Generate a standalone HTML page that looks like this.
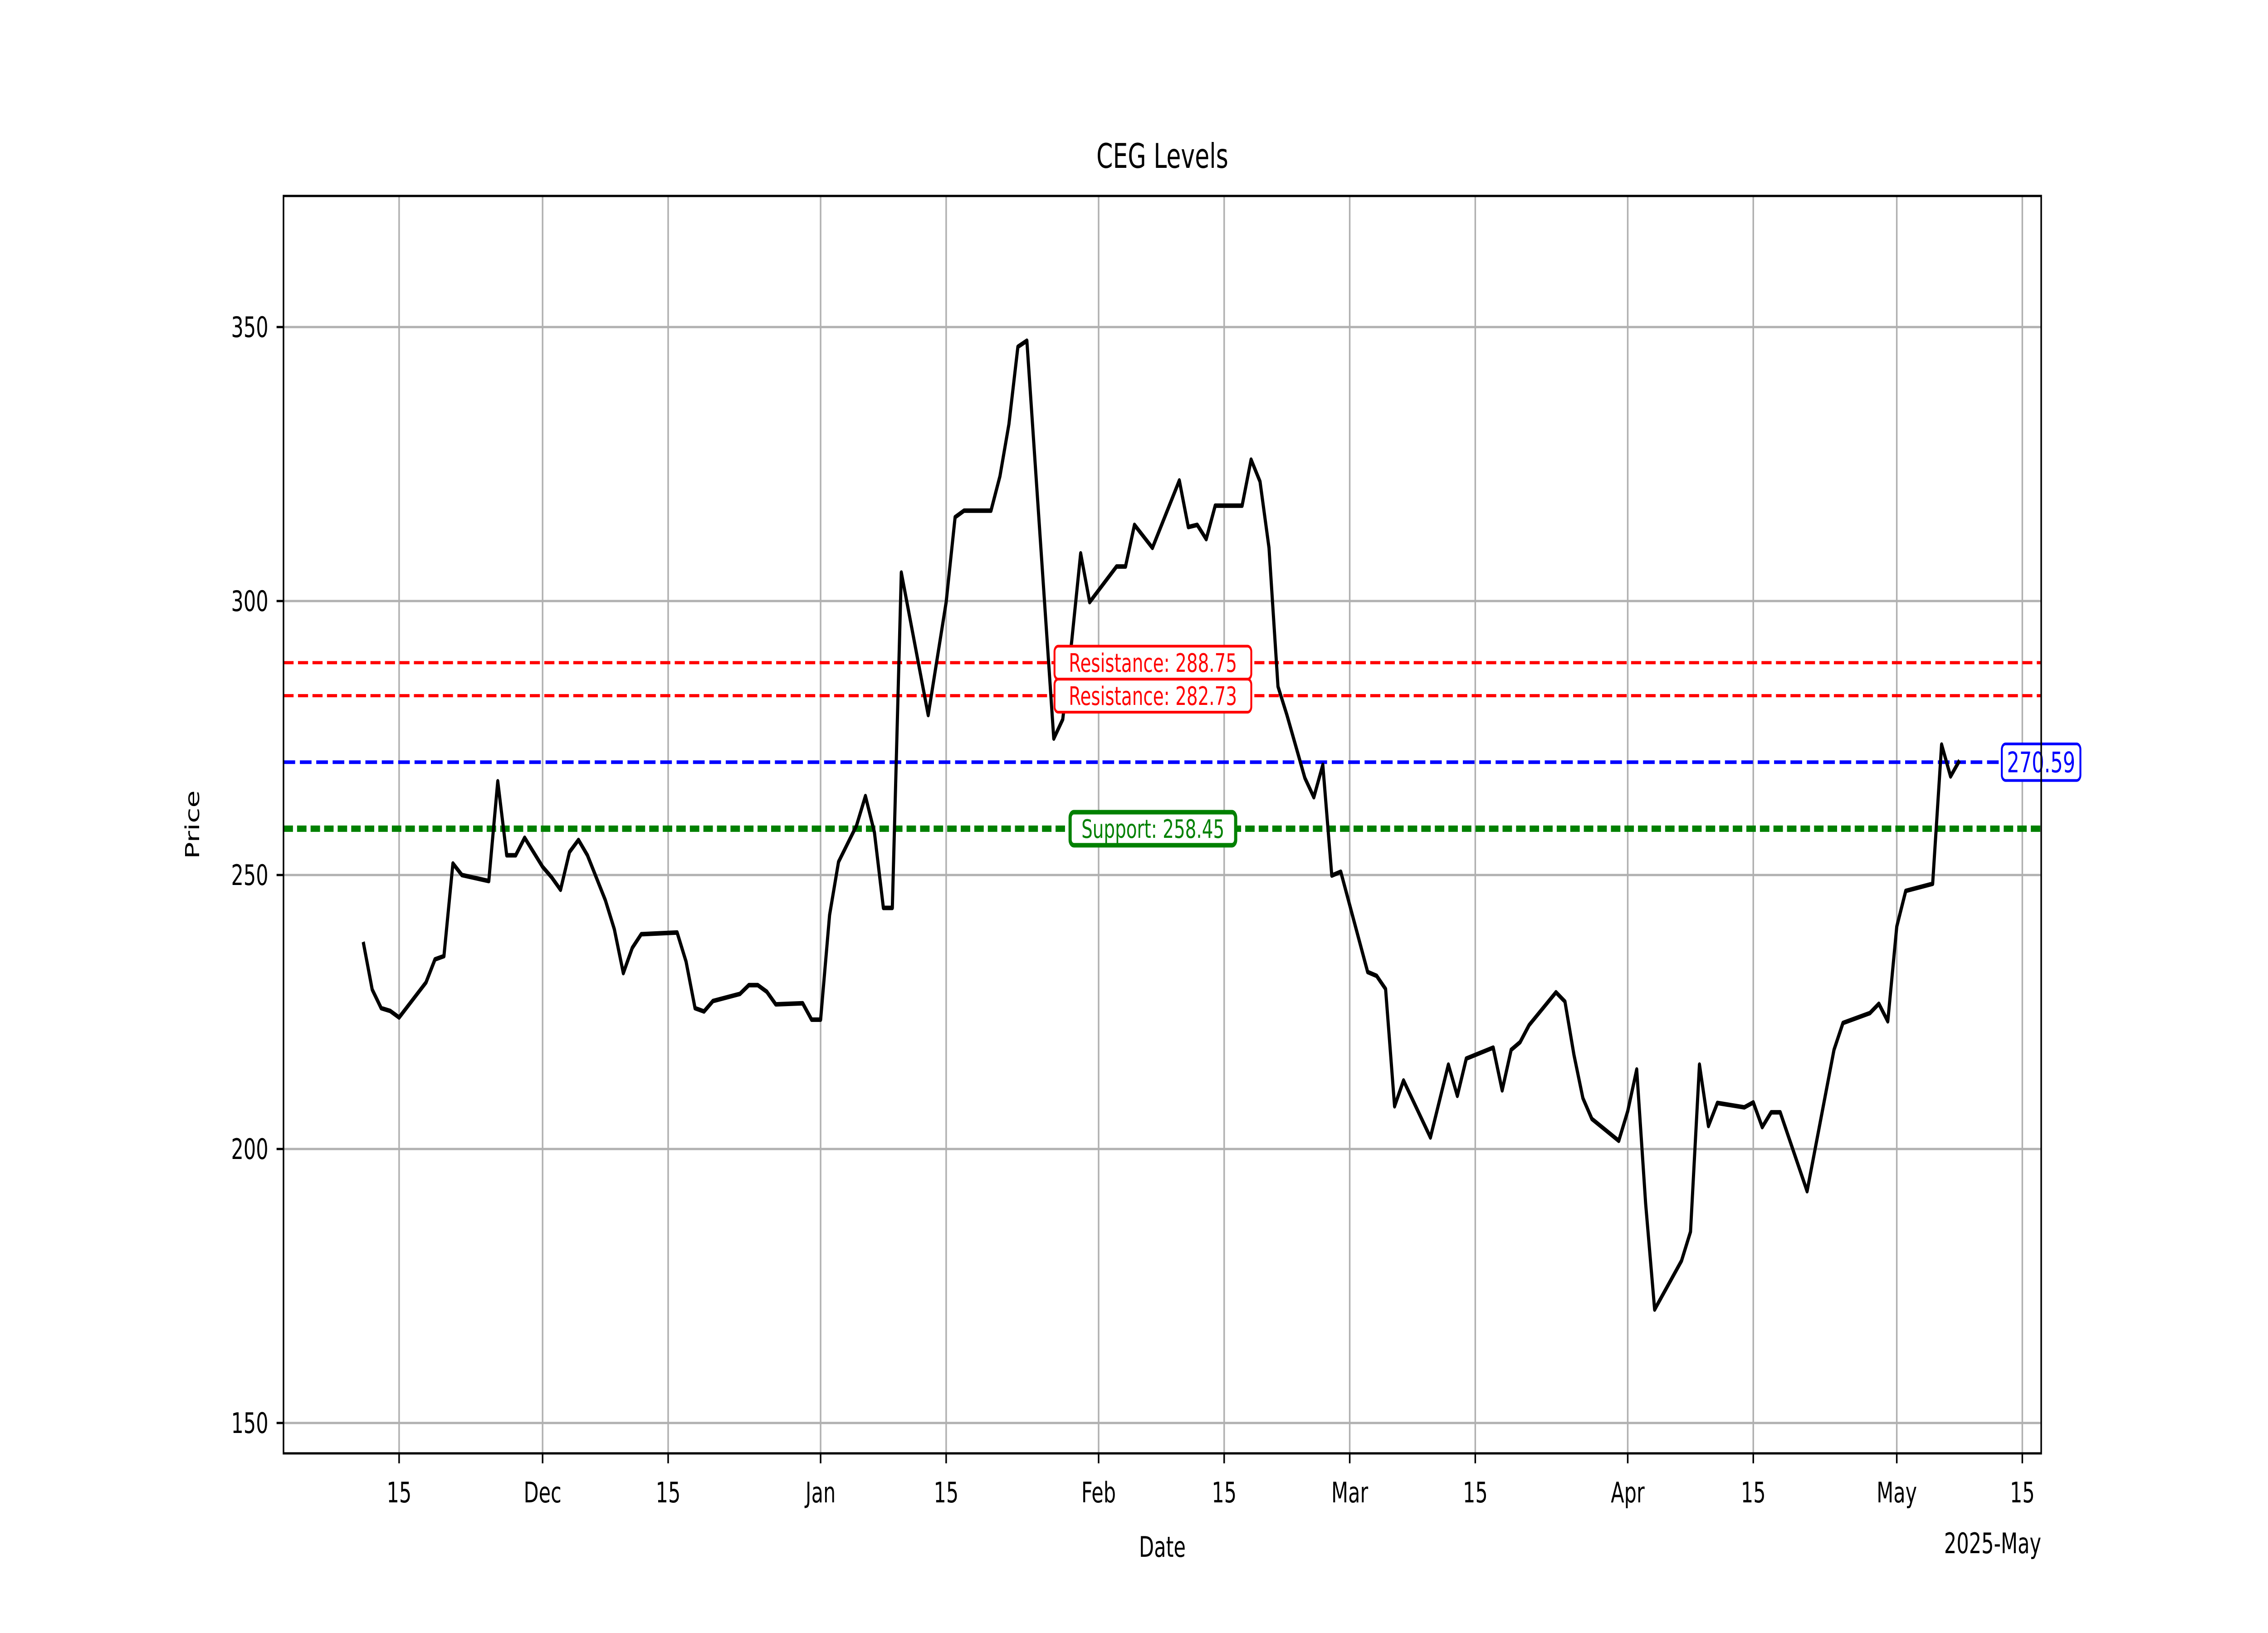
<!DOCTYPE html>
<html><head><meta charset="utf-8"><style>
html,body{margin:0;padding:0;background:#fff;width:100%;height:100%;overflow:hidden;}
svg{display:block;width:100vw;height:100vh;font-family:"DejaVu Sans","Liberation Sans",sans-serif;}
</style></head><body>
<svg id="chart" viewBox="0 0 7200 3600" preserveAspectRatio="none" xmlns="http://www.w3.org/2000/svg">
<rect x="0" y="0" width="7200" height="3600" fill="#fff"/>
<g id="grid"></g>
<g id="levels"></g>
<g id="series"></g>
<g id="ann"></g>
<rect x="900" y="432" width="5580" height="2772" fill="none" stroke="#000" stroke-width="5"/>
<g id="axes"></g>
<text x="3690" y="370" font-size="75" text-anchor="middle">CEG Levels</text>
<text x="3690" y="3432" font-size="62" text-anchor="middle">Date</text>
<text x="0" y="0" font-size="62" text-anchor="middle" transform="translate(632,1818) rotate(-90)">Price</text>
<text x="6480" y="3424" font-size="62" text-anchor="end">2025-May</text>
</svg>
<script>
const dates = ["2024-11-11","2024-11-12","2024-11-13","2024-11-14","2024-11-15","2024-11-18","2024-11-19","2024-11-20","2024-11-21","2024-11-22","2024-11-25","2024-11-26","2024-11-27","2024-11-28","2024-11-29","2024-12-01","2024-12-02","2024-12-03","2024-12-04","2024-12-05","2024-12-06","2024-12-08","2024-12-09","2024-12-10","2024-12-11","2024-12-12","2024-12-16","2024-12-17","2024-12-18","2024-12-19","2024-12-20","2024-12-23","2024-12-24","2024-12-25","2024-12-26","2024-12-27","2024-12-30","2024-12-31","2025-01-01","2025-01-02","2025-01-03","2025-01-05","2025-01-06","2025-01-07","2025-01-08","2025-01-09","2025-01-10","2025-01-13","2025-01-14","2025-01-15","2025-01-16","2025-01-17","2025-01-20","2025-01-21","2025-01-22","2025-01-23","2025-01-24","2025-01-27","2025-01-28","2025-01-29","2025-01-30","2025-01-31","2025-02-03","2025-02-04","2025-02-05","2025-02-07","2025-02-10","2025-02-11","2025-02-12","2025-02-13","2025-02-14","2025-02-17","2025-02-18","2025-02-19","2025-02-20","2025-02-21","2025-02-22","2025-02-24","2025-02-25","2025-02-26","2025-02-27","2025-02-28","2025-03-03","2025-03-04","2025-03-05","2025-03-06","2025-03-07","2025-03-10","2025-03-12","2025-03-13","2025-03-14","2025-03-17","2025-03-18","2025-03-19","2025-03-20","2025-03-21","2025-03-24","2025-03-25","2025-03-26","2025-03-27","2025-03-28","2025-03-31","2025-04-01","2025-04-02","2025-04-03","2025-04-04","2025-04-07","2025-04-08","2025-04-09","2025-04-10","2025-04-11","2025-04-14","2025-04-15","2025-04-16","2025-04-17","2025-04-18","2025-04-21","2025-04-24","2025-04-25","2025-04-28","2025-04-29","2025-04-30","2025-05-01","2025-05-02","2025-05-05","2025-05-06","2025-05-07","2025-05-08"];
const prices = [237.8,229.1,225.7,225.2,224.0,230.4,234.6,235.2,252.1,250.0,248.9,267.1,253.6,253.6,256.8,251.5,249.6,247.3,254.2,256.4,253.6,245.4,240.1,232.1,236.7,239.2,239.5,234.2,225.7,225.1,227.0,228.3,229.9,229.9,228.7,226.4,226.6,223.6,223.6,242.7,252.4,259.0,264.4,257.8,244.0,244.0,305.2,279.2,289.5,299.8,315.3,316.5,316.5,322.8,332.3,346.4,347.5,274.9,278.4,292.7,308.7,299.8,306.3,306.3,313.9,309.7,322.0,313.5,313.9,311.3,317.4,317.4,325.8,321.8,309.7,284.4,279.2,267.7,264.2,270.1,249.9,250.6,232.3,231.6,229.2,207.8,212.5,202.1,215.4,209.7,216.5,218.5,210.7,218.1,219.5,222.6,228.6,226.9,217.2,209.3,205.5,201.5,206.9,214.5,190.0,170.7,179.6,184.9,215.4,204.2,208.4,207.6,208.5,204.0,206.7,206.7,192.3,218.1,223.0,224.8,226.5,223.3,240.6,247.1,248.4,273.8,268.0,270.9];
const yTicks = [150,200,250,300,350];
const xTickDates = ["2024-11-15","2024-12-01","2024-12-15","2025-01-01","2025-01-15","2025-02-01","2025-02-15","2025-03-01","2025-03-15","2025-04-01","2025-04-15","2025-05-01","2025-05-15"];
const xTickLabels = ["15","Dec","15","Jan","15","Feb","15","Mar","15","Apr","15","May","15"];
const resistanceLevels = [288.75,282.73];
const supportLevels = [258.45];
const currentPrice = [270.59];

const NS="http://www.w3.org/2000/svg";
const X0=Date.UTC(2024,10,15), PXD=28.47, XB=1267;
function xs(d){const p=d.split('-');return XB+(Date.UTC(+p[0],+p[1]-1,+p[2])-X0)/86400000*PXD;}
function ys(v){return 721+(350-v)*12.08;}
function mk(tag,attrs,parent){const e=document.createElementNS(NS,tag);for(const k in attrs)e.setAttribute(k,attrs[k]);parent.appendChild(e);return e;}
const grid=document.getElementById('grid'),axes=document.getElementById('axes'),lv=document.getElementById('levels'),ser=document.getElementById('series'),ann=document.getElementById('ann');

xTickDates.forEach((d,i)=>{const x=xs(d);
 const g=mk('line',{x1:x,x2:x,y1:432,y2:3204,stroke:'#b0b0b0','stroke-width':5},grid);
 
 
 const t=mk('line',{x1:x,x2:x,y1:3204,y2:3226,stroke:'#000','stroke-width':5},axes);
 
 
 const l=mk('text',{x:x,y:3312,'font-size':62,'text-anchor':'middle'},axes);l.textContent=xTickLabels[i];
 
 
});
yTicks.forEach(v=>{const y=ys(v);
 const g=mk('line',{x1:900,x2:6480,y1:y,y2:y,stroke:'#b0b0b0','stroke-width':5},grid);
 
 
 const t=mk('line',{x1:878,x2:900,y1:y,y2:y,stroke:'#000','stroke-width':5},axes);
 
 
 const l=mk('text',{x:852,y:y+22,'font-size':62,'text-anchor':'end'},axes);l.textContent=v;
 
 
});

resistanceLevels.forEach(v=>{const y=ys(v);
 const ln=mk('line',{x1:900,x2:6480,y1:y,y2:y,stroke:'#ff0000','stroke-width':7,'stroke-dasharray':'32 14'},lv);
 
 
});
supportLevels.forEach(v=>{const y=ys(v);
 const ln=mk('line',{x1:900,x2:6480,y1:y,y2:y,stroke:'#008000','stroke-width':14,'stroke-dasharray':'30 13'},lv);
 
 
});
currentPrice.forEach(v=>{const y=ys(v);
 const ln=mk('line',{x1:900,x2:6480,y1:y,y2:y,stroke:'#0000ff','stroke-width':8,'stroke-dasharray':'37 15'},lv);
 
 
});

const pts=dates.map((d,i)=>xs(d).toFixed(1)+','+ys(prices[i]).toFixed(1)).join(' ');
const pl=mk('polyline',{points:pts,fill:'none',stroke:'#000','stroke-width':10,'stroke-linejoin':'round'},ser);



function label(txt,cx,cy,color,bw,name,anchor,fs){
 const w=txt.length*fs*0.59+30, h=fs*1.3;
 const left= anchor==='start'?cx:cx-w/2;
 const r=mk('rect',{x:left,y:cy-h/2,width:w,height:h,rx:12,fill:'#fff',stroke:color,'stroke-width':bw},ann);
 
 
 const t=mk('text',{x:left+w/2,y:cy+fs*0.36,'font-size':fs,'text-anchor':'middle',fill:color},ann);t.textContent=txt;
 
 
}
resistanceLevels.forEach((v,i)=>label('Resistance: '+v.toFixed(2),3660,ys(v),'#ff0000',6,'resistance-label-'+(i+1),'middle',56));
supportLevels.forEach(v=>label('Support: '+v.toFixed(2),3660,ys(v),'#008000',10,'support-label','middle',56));
currentPrice.forEach(v=>label(v.toFixed(2),6355,ys(v),'#0000ff',6,'current-price-label','start',62));
</script>
</body></html>
